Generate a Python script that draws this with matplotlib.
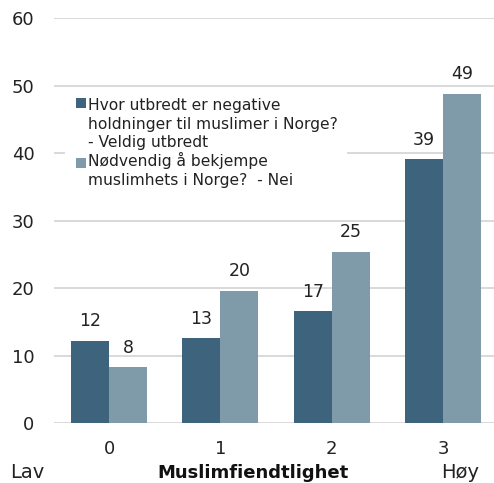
import matplotlib
matplotlib.use("Agg")
import matplotlib.pyplot as plt
from matplotlib.patches import Rectangle
import numpy as np

plt.rcParams['font.family'] = ['DejaVu Sans']

categories = ["0", "1", "2", "3"]
veldig_utbredt = [12.2, 12.6, 16.6, 39.1]
bekjempe_nei = [8.3, 19.6, 25.4, 48.8]
series_names = [
    "Hvor utbredt er negative\nholdninger til muslimer i Norge?\n- Veldig utbredt",
    "Nødvendig å bekjempe\nmuslimhets i Norge?  - Nei",
]
yticks = [0, 10, 20, 30, 40, 50, 60]

dark = "#3e637c"
light = "#7f9ba9"
grid = "#d9d9d9"

fig = plt.figure(figsize=(4.94, 4.83), dpi=100)
ax = fig.add_axes([54 / 494, (483 - 423.3) / 483, 1 - 54 / 494, (423.3 - 18) / 483])

x = np.arange(len(categories))
w = 0.34
b1 = ax.bar(x - w / 2, veldig_utbredt, width=w, color=dark, zorder=3)
b2 = ax.bar(x + w / 2, bekjempe_nei, width=w, color=light, zorder=3)

for bars, vals in ((b1, veldig_utbredt), (b2, bekjempe_nei)):
    for rect, v in zip(bars, vals):
        ax.annotate(f"{round(v)}", (rect.get_x() + rect.get_width() / 2, v),
                    xytext=(0, 10.5), textcoords="offset points",
                    ha="center", va="baseline", fontsize=12.5, color="#222222")

ax.set_xlim(-0.494, 3.458)
ax.set_ylim(0, 60)
ax.set_yticks(yticks)
ax.set_xticks(x)
ax.set_xticklabels(categories)
ax.yaxis.grid(True, color=grid, linewidth=1.4, zorder=0)
ax.set_axisbelow(True)
for s in ax.spines.values():
    s.set_visible(False)
ax.tick_params(axis="both", length=0, labelsize=13, colors="#222222")
ax.tick_params(axis="y", pad=14)
ax.tick_params(axis="x", pad=12)

# legend placed in pixel-like axes fractions
def ax_xy(px, py):
    x0, y0 = 54, 423.3
    return ((px - x0) / (494 - x0), (y0 - py) / (423.3 - 18))

lx, ly = ax_xy(65, 192)
rx, ry = ax_xy(347, 90)
ax.add_patch(Rectangle((lx, ly), rx - lx, ry - ly, transform=ax.transAxes,
                       facecolor="white", edgecolor="none", zorder=2))
# (square top, baseline of last text line, colour, label)
for (sq_top, baseline, col, label) in ((98.3, 147.3, dark, series_names[0]),
                                       (157.5, 185.0, light, series_names[1])):
    sx, sy = ax_xy(76, sq_top + 10)
    sx2, sy2 = ax_xy(86, sq_top)
    ax.add_patch(Rectangle((sx, sy), sx2 - sx, sy2 - sy, transform=ax.transAxes,
                           facecolor=col, edgecolor="none", zorder=4))
    tx, ty = ax_xy(88, baseline)
    ax.text(tx, ty, label, transform=ax.transAxes, ha="left", va="baseline",
            fontsize=11.2, linespacing=1.3, color="#222222", zorder=4)

fig.text(10 / 494, 5 / 483, "Lav", ha="left", va="baseline", fontsize=14, color="#222222")
fig.text(253 / 494, 5 / 483, "Muslimfiendtlighet", ha="center", va="baseline",
         fontsize=13, fontweight="bold", color="#111111")
fig.text(479 / 494, 5 / 483, "Høy", ha="right", va="baseline", fontsize=14, color="#222222")

fig.savefig("out.png", dpi=100)
